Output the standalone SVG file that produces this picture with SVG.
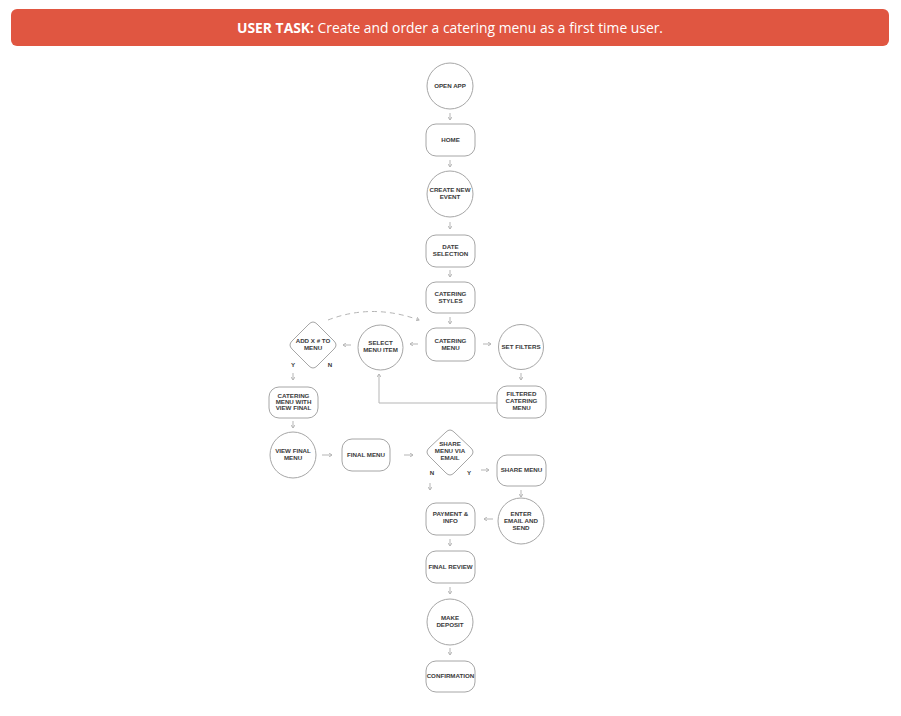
<svg xmlns="http://www.w3.org/2000/svg" width="901" height="716" viewBox="0 0 901 716">
<style>
.n{fill:#fff;stroke:#a6a6a6;stroke-width:1}
.t{font-family:"Liberation Sans",Arial,sans-serif;font-weight:bold;font-size:6.2px;fill:#3a3a3a;text-anchor:middle}
.c{fill:none;stroke:#b5b5b5;stroke-width:1}
.h{font-family:"Open Sans","Liberation Sans",sans-serif;font-size:14px;fill:#fff;text-anchor:middle}
</style>
<defs>
<marker id="a" markerWidth="4" markerHeight="4" refX="3" refY="2" orient="auto" markerUnits="userSpaceOnUse">
<path d="M0,0 L3,2 L0,4" fill="none" stroke="#b5b5b5" stroke-width="1"/>
</marker>
</defs>
<rect width="901" height="716" fill="#fff"/>
<g id="header">
<rect x="11" y="9" width="878" height="37" rx="6" fill="#e05641"/>
<text class="h" x="450" y="33" textLength="426" lengthAdjust="spacingAndGlyphs"><tspan font-weight="bold">USER TASK:</tspan> Create and order a catering menu as a first time user.</text>
</g>
<g id="connectors">
<line class="c" x1="450" y1="113" x2="450" y2="120" marker-end="url(#a)"/>
<line class="c" x1="450" y1="160" x2="450" y2="167" marker-end="url(#a)"/>
<line class="c" x1="450" y1="222" x2="450" y2="229" marker-end="url(#a)"/>
<line class="c" x1="450" y1="270" x2="450" y2="277" marker-end="url(#a)"/>
<line class="c" x1="450" y1="317" x2="450" y2="324" marker-end="url(#a)"/>
<line class="c" x1="418" y1="344" x2="410" y2="344" marker-end="url(#a)"/>
<line class="c" x1="351" y1="345" x2="343" y2="345" marker-end="url(#a)"/>
<line class="c" x1="483" y1="344" x2="491" y2="344" marker-end="url(#a)"/>
<line class="c" x1="521" y1="373" x2="521" y2="380" marker-end="url(#a)"/>
<polyline class="c" points="497,403 379,403 379,374" marker-end="url(#a)"/>
<path class="c" d="M328,320 Q372,303 419,320" stroke-dasharray="5,4" marker-end="url(#a)"/>
<line class="c" x1="293" y1="373" x2="293" y2="380" marker-end="url(#a)"/>
<line class="c" x1="293" y1="421" x2="293" y2="428" marker-end="url(#a)"/>
<line class="c" x1="322" y1="455" x2="332" y2="455" marker-end="url(#a)"/>
<line class="c" x1="404" y1="455" x2="413" y2="455" marker-end="url(#a)"/>
<line class="c" x1="481" y1="470" x2="489" y2="470" marker-end="url(#a)"/>
<line class="c" x1="430" y1="483" x2="430" y2="490" marker-end="url(#a)"/>
<line class="c" x1="521" y1="490" x2="521" y2="497" marker-end="url(#a)"/>
<line class="c" x1="493" y1="519" x2="484" y2="519" marker-end="url(#a)"/>
<line class="c" x1="450" y1="539" x2="450" y2="546" marker-end="url(#a)"/>
<line class="c" x1="450" y1="587" x2="450" y2="594" marker-end="url(#a)"/>
<line class="c" x1="450" y1="648" x2="450" y2="655" marker-end="url(#a)"/>
<text class="t" x="293" y="367">Y</text>
<text class="t" x="330" y="367">N</text>
<text class="t" x="432" y="475">N</text>
<text class="t" x="469" y="475">Y</text>
</g>
<g id="open-app"><circle class="n" cx="450" cy="86" r="23"/><text class="t" x="450" y="88">OPEN APP</text></g>
<g id="home"><rect class="n" x="426" y="124" width="49" height="32" rx="10"/><text class="t" x="450.5" y="142">HOME</text></g>
<g id="create-event"><circle class="n" cx="450" cy="194" r="23"/><text class="t" x="450" y="192">CREATE NEW</text><text class="t" x="450" y="199">EVENT</text></g>
<g id="date-selection"><rect class="n" x="426" y="235" width="49" height="32" rx="10"/><text class="t" x="450.5" y="249">DATE</text><text class="t" x="450.5" y="256">SELECTION</text></g>
<g id="catering-styles"><rect class="n" x="426" y="282" width="49" height="31" rx="10"/><text class="t" x="450.5" y="296">CATERING</text><text class="t" x="450.5" y="303">STYLES</text></g>
<g id="catering-menu"><rect class="n" x="426" y="328" width="49" height="33" rx="10"/><text class="t" x="450.5" y="343">CATERING</text><text class="t" x="450.5" y="350">MENU</text></g>
<g id="select-menu-item"><circle class="n" cx="380.5" cy="347.5" r="22.5"/><text class="t" x="380.5" y="345">SELECT</text><text class="t" x="380.5" y="352">MENU ITEM</text></g>
<g id="add-to-menu"><path class="n" d="M309,324 Q313,320 317,324 L334,341 Q338,345 334,349 L317,366 Q313,370 309,366 L292,349 Q288,345 292,341 Z"/><text class="t" x="313" y="343">ADD X # TO</text><text class="t" x="313" y="350">MENU</text></g>
<g id="set-filters"><circle class="n" cx="521" cy="347" r="22.5"/><text class="t" x="521" y="349">SET FILTERS</text></g>
<g id="filtered-menu"><rect class="n" x="497" y="386" width="49" height="32" rx="10"/><text class="t" x="521.5" y="396">FILTERED</text><text class="t" x="521.5" y="403">CATERING</text><text class="t" x="521.5" y="410">MENU</text></g>
<g id="menu-view-final"><rect class="n" x="269" y="387" width="49" height="31" rx="10"/><text class="t" x="293.5" y="398" font-size="5.2">CATERING</text><text class="t" x="293.5" y="404" font-size="5.2">MENU WITH</text><text class="t" x="293.5" y="410" font-size="5.2">VIEW FINAL</text></g>
<g id="view-final-menu"><circle class="n" cx="293" cy="455" r="23"/><text class="t" x="293" y="453">VIEW FINAL</text><text class="t" x="293" y="460">MENU</text></g>
<g id="final-menu"><rect class="n" x="342" y="439" width="48" height="32" rx="10"/><text class="t" x="366" y="457">FINAL MENU</text></g>
<g id="share-via-email"><path class="n" d="M446,432 Q450,428 454,432 L471,448 Q475,452 471,456 L454,473 Q450,477 446,473 L429,456 Q425,452 429,448 Z"/><text class="t" x="450" y="446">SHARE</text><text class="t" x="450" y="453">MENU VIA</text><text class="t" x="450" y="460">EMAIL</text></g>
<g id="share-menu"><rect class="n" x="497" y="455" width="49" height="31" rx="10"/><text class="t" x="521.5" y="472">SHARE MENU</text></g>
<g id="enter-email"><circle class="n" cx="521" cy="521" r="23"/><text class="t" x="521" y="516">ENTER</text><text class="t" x="521" y="523">EMAIL AND</text><text class="t" x="521" y="530">SEND</text></g>
<g id="payment"><rect class="n" x="426" y="503" width="49" height="32" rx="10"/><text class="t" x="450.5" y="516">PAYMENT &amp;</text><text class="t" x="450.5" y="523">INFO</text></g>
<g id="final-review"><rect class="n" x="426" y="551" width="49" height="32" rx="10"/><text class="t" x="450.5" y="569">FINAL REVIEW</text></g>
<g id="make-deposit"><circle class="n" cx="450" cy="622" r="23"/><text class="t" x="450" y="620">MAKE</text><text class="t" x="450" y="627">DEPOSIT</text></g>
<g id="confirmation"><rect class="n" x="426" y="661" width="49" height="31" rx="10"/><text class="t" x="450.5" y="678" font-size="5.4">CONFIRMATION</text></g>
</svg>
